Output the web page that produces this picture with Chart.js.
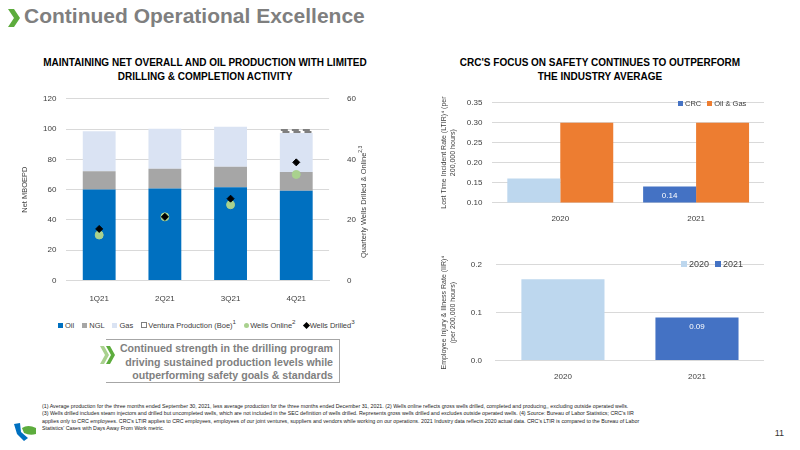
<!DOCTYPE html>
<html>
<head>
<meta charset="utf-8">
<script src="https://cdn.jsdelivr.net/npm/chart.js@4.4.1/dist/chart.umd.min.js"></script>
<style>
body { margin: 0; width: 800px; height: 450px; background: #fff; font-family: "Liberation Sans", Arial, sans-serif; position: relative; overflow: hidden; }
.abs { position: absolute; }
h1 { position: absolute; left: 24px; top: 4px; margin: 0; font-size: 21px; color: #7f7f7f; font-weight: bold; }
.ttl { position: absolute; font-size: 10px; font-weight: bold; text-align: center; color: #000; line-height: 14px; }
.callout { position: absolute; left: 106px; top: 339px; width: 234px; height: 44px; border: 1px solid #a6a6a6; border-left: none; font-size: 10.6px; font-weight: bold; color: #7f7f7f; text-align: right; padding: 2px 6px 0 0; line-height: 13.5px; box-sizing: border-box; white-space: nowrap; }
.foot { position: absolute; left: 42px; top: 403px; width: 720px; font-size: 5.3px; line-height: 7.3px; color: #222; }
.pg { position: absolute; right: 16px; top: 428px; font-size: 9px; color: #333; }
.leg { position: absolute; font-size: 7.5px; color: #404040; white-space: nowrap; }
.leg span.b { display: inline-block; width: 5px; height: 5px; margin: 0 2px 0 6px; vertical-align: 0px; }
.ytitle { position: absolute; font-size: 7.5px; color: #404040; white-space: nowrap; transform-origin: 0 0; transform: rotate(-90deg); }
</style>
</head>
<body>
<svg class="abs" style="left:8px;top:9px" width="12" height="18"><polygon points="0,0 6,0 12,9 6,18 0,18 6,9" fill="#5dac3d"/></svg>
<h1>Continued Operational Excellence</h1>

<div class="ttl" style="left:20px;top:56px;width:370px">MAINTAINING NET OVERALL AND OIL PRODUCTION WITH LIMITED<br>DRILLING &amp; COMPLETION ACTIVITY</div>
<div class="ttl" style="left:440px;top:56px;width:320px">CRC'S FOCUS ON SAFETY CONTINUES TO OUTPERFORM<br>THE INDUSTRY AVERAGE</div>

<div class="abs" style="left:16px;top:84px;width:368px;height:226px"><canvas id="prod"></canvas></div>
<div class="ytitle" style="left:357px;top:258px">Quarterly Wells Drilled &amp; Online<sup style="font-size:5px">2,3</sup></div>
<div class="leg" style="left:52px;top:318px">
<span class="b" style="background:#0070c0"></span>Oil
<span class="b" style="background:#a6a6a6"></span>NGL
<span class="b" style="background:#dae3f3"></span>Gas
<span class="b" style="border:1px solid #7f7f7f;width:4px;height:4px;margin-right:1px"></span>Ventura Production (Boe)<sup>1</sup>
<span class="b" style="background:#a9d18e;border-radius:50%;margin-right:1px"></span>Wells Online<sup>2</sup>
<span class="b" style="background:#000;transform:rotate(45deg);margin-right:1px"></span>Wells Drilled<sup>3</sup>
</div>

<div class="abs" style="left:440px;top:88px;width:324px;height:140px"><canvas id="ltir"></canvas></div>
<div class="leg" style="left:672px;top:99px"><span class="b" style="background:#4472c4"></span>CRC<span class="b" style="background:#ed7d31"></span>Oil &amp; Gas</div>
<div class="abs" style="left:440px;top:246px;width:324px;height:140px"><canvas id="iir"></canvas></div>
<div class="leg" style="left:675px;top:259px;font-size:9px"><span class="b" style="background:#bdd7ee;width:6px;height:6px"></span>2020<span class="b" style="background:#4472c4;width:6px;height:6px"></span>2021</div>

<svg class="abs" style="left:100px;top:346px" width="16" height="18"><polygon points="0,0 4,0 9,9 4,18 0,18 5,9" fill="#a9d18e"/><polygon points="6,0 10,0 15,9 10,18 6,18 11,9" fill="#5dac3d"/></svg>
<div class="callout">Continued strength in the drilling program<br>driving sustained production levels while<br>outperforming safety goals &amp; standards</div>

<svg class="abs" style="left:12px;top:420px" width="26" height="22"><path d="M2,4 L8,3 L9,12 L16,18 L12,21 L5,14 Z" fill="#0070c0"/><path d="M10,8 Q16,4 24,8 L24,14 Q18,16 12,13 Z" fill="#5dac3d"/></svg>
<div class="foot">(1) Average production for the three months ended September 30, 2021, less average production for the three months ended December 31, 2021. (2) Wells online reflects gross wells drilled, completed and producing,, excluding outside operated wells.<br>(3) Wells drilled includes steam injectors and drilled but uncompleted wells, which are not included in the SEC definition of wells drilled. Represents gross wells drilled and excludes outside operated wells. (4) Source: Bureau of Labor Statistics; CRC's IIR<br>applies only to CRC employees. CRC's LTIR applies to CRC employees, employees of our joint ventures, suppliers and vendors while working on our operations. 2021 Industry data reflects 2020 actual data. CRC's LTIR is compared to the Bureau of Labor<br>Statistics' Cases with Days Away From Work metric.</div>
<div class="pg">11</div>

<script>
const quarters = ['1Q21', '2Q21', '3Q21', '4Q21'];
const oil = [60.0, 60.7, 61.5, 59.3];
const ngl = [12.2, 13.1, 13.6, 12.3];
const gas = [26.4, 26.4, 26.5, 25.8];
const ventura = [null, null, null, 2.6];
const wellsOnline = [15, 21, 25, 35];
const wellsDrilled = [17, 21, 27, 39];

const years = ['2020', '2021'];
const ltirCrc = [0.16, 0.14];
const ltirIndustry = [0.30, 0.30];
const iir = [0.17, 0.09];

const fontFam = '"Liberation Sans", Arial, sans-serif';
Chart.defaults.font.family = fontFam;
Chart.defaults.font.size = 8;
Chart.defaults.color = '#404040';
Chart.defaults.animation = false;

const lightBlue = '#bdd7ee';
const darkBlue = '#4472c4';
const grid = { color: '#d9d9d9', drawTicks: false };

// dashed outline around the Ventura bar
const dashedBar = {
    id: 'dashedBar',
    afterDatasetsDraw(chart) {
        const meta = chart.getDatasetMeta(3);
        const c = chart.ctx;
        meta.data.forEach(function (el, i) {
            if (ventura[i] == null) return;
            const w = el.width;
            c.save();
            c.strokeStyle = '#7f7f7f';
            c.lineWidth = 2;
            c.setLineDash([7, 4]);
            c.strokeRect(el.x - w / 2 + 1, el.y + 1, w - 2, el.base - el.y - 2);
            c.restore();
        });
    }
};

// value labels inside selected bars
function labelPlugin(dsIndex, idx, text) {
    return {
        id: 'lbl' + dsIndex,
        afterDatasetsDraw(chart) {
            const el = chart.getDatasetMeta(dsIndex).data[idx];
            const c = chart.ctx;
            c.save();
            c.fillStyle = '#ffffff';
            c.font = '8px ' + fontFam;
            c.textAlign = 'center';
            c.textBaseline = 'middle';
            c.fillText(text, el.x, el.y + 9);
            c.restore();
        }
    };
}

const barW = { categoryPercentage: 0.5, barPercentage: 1, stack: 's', order: 2 };

new Chart(document.getElementById('prod'), {
    type: 'bar',
    data: {
        labels: quarters,
        datasets: [
            Object.assign({ label: 'Oil', data: oil, backgroundColor: '#0070c0' }, barW),
            Object.assign({ label: 'NGL', data: ngl, backgroundColor: '#a6a6a6' }, barW),
            Object.assign({ label: 'Gas', data: gas, backgroundColor: '#dae3f3' }, barW),
            Object.assign({ label: 'Ventura Production (Boe)', data: ventura, backgroundColor: 'rgba(0,0,0,0)' }, barW),
            { type: 'line', label: 'Wells Online', data: wellsOnline, yAxisID: 'y1', showLine: false,
              pointStyle: 'circle', pointRadius: 4, backgroundColor: '#a9d18e', borderColor: '#a9d18e', order: 1 },
            { type: 'line', label: 'Wells Drilled', data: wellsDrilled, yAxisID: 'y1', showLine: false,
              pointStyle: 'rectRot', pointRadius: 3.5, backgroundColor: '#000', borderColor: '#000', order: 0 }
        ]
    },
    options: {
        maintainAspectRatio: false,
        layout: { padding: { right: 18 } },
        scales: {
            x: { stacked: true, grid: { display: false }, border: { color: '#d9d9d9' }, ticks: { padding: 6 } },
            y: { stacked: true, min: 0, max: 120, ticks: { stepSize: 20, padding: 10 }, grid: grid, border: { display: false },
                 title: { display: true, text: 'Net MBOEPD', font: { size: 7.5 } } },
            y1: { position: 'right', min: 0, max: 60, ticks: { stepSize: 20, padding: 10 }, grid: { display: false }, border: { display: false } }
        },
        plugins: { legend: { display: false }, tooltip: { enabled: false } }
    },
    plugins: [dashedBar]
});

new Chart(document.getElementById('ltir'), {
    type: 'bar',
    data: {
        labels: years,
        datasets: [
            { label: 'CRC', data: ltirCrc, backgroundColor: [lightBlue, darkBlue] },
            { label: 'Oil & Gas', data: ltirIndustry, backgroundColor: '#ed7d31' }
        ]
    },
    options: {
        maintainAspectRatio: false,
        layout: { padding: { top: 4 } },
        datasets: { bar: { categoryPercentage: 0.78, barPercentage: 1 } },
        scales: {
            x: { grid: { display: false }, border: { color: '#d9d9d9' }, ticks: { padding: 4 } },
            y: { min: 0.10, max: 0.35, ticks: { stepSize: 0.05, padding: 10, callback: v => v.toFixed(2) }, grid: grid, border: { display: false },
                 title: { display: true, text: ['Lost Time Incident Rate (LTIR)\u2074 (per', '200,000 hours)'], font: { size: 7 }, padding: 0 } }
        },
        plugins: { legend: { display: false }, tooltip: { enabled: false } }
    },
    plugins: [labelPlugin(0, 1, '0.14')]
});

new Chart(document.getElementById('iir'), {
    type: 'bar',
    data: {
        labels: years,
        datasets: [
            { label: 'IIR', data: iir, backgroundColor: [lightBlue, darkBlue] }
        ]
    },
    options: {
        maintainAspectRatio: false,
        layout: { padding: { top: 4 } },
        datasets: { bar: { categoryPercentage: 0.62, barPercentage: 1 } },
        scales: {
            x: { grid: { display: false }, border: { color: '#d9d9d9' }, ticks: { padding: 4 } },
            y: { min: 0, max: 0.2, ticks: { stepSize: 0.1, padding: 14, callback: v => v.toFixed(1) }, grid: grid, border: { display: false },
                 title: { display: true, text: ['Employee Injury & Illness Rate (IIR)\u2074', '(per 200,000 hours)'], font: { size: 7 }, padding: 0 } }
        },
        plugins: { legend: { display: false }, tooltip: { enabled: false } }
    },
    plugins: [labelPlugin(0, 1, '0.09')]
});
</script>
</body>
</html>
